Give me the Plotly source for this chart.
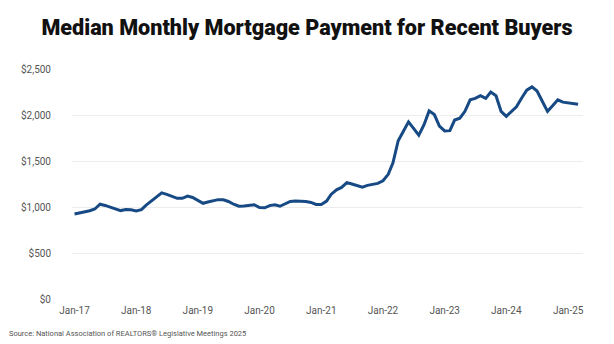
import plotly.graph_objects as go
import pandas as pd

months = pd.date_range("2017-01-01", periods=99, freq="MS")
payment = [
    923, 935, 947, 960, 978, 1030, 1017, 997, 976, 961, 973, 970,
    957, 972, 1020, 1068, 1111, 1154, 1138, 1119, 1094, 1095, 1119, 1104,
    1072, 1040, 1054, 1067, 1080, 1079, 1060, 1030, 1008, 1010, 1016, 1025,
    995, 991, 1015, 1023, 1008, 1035, 1061, 1066, 1065, 1060, 1050, 1028,
    1027, 1064, 1139, 1187, 1213, 1265, 1250, 1230, 1216, 1235, 1250, 1257,
    1285, 1355, 1480, 1720, 1820, 1925, 1855, 1780, 1895, 2045, 2005, 1880,
    1827, 1830, 1945, 1965, 2040, 2165, 2180, 2210, 2180, 2250, 2210, 2040,
    1985, 2035, 2090, 2185, 2270, 2305, 2260, 2150, 2040, 2100, 2165, 2140,
    2133, 2125, 2117,
]
y_ticks = [0, 500, 1000, 1500, 2000, 2500]
y_labels = ["$0", "$500", "$1,000", "$1,500", "$2,000", "$2,500"]
x_ticks = pd.date_range("2017-01-01", periods=9, freq="12MS")
x_labels = ["Jan-17", "Jan-18", "Jan-19", "Jan-20", "Jan-21", "Jan-22", "Jan-23", "Jan-24", "Jan-25"]

fig = go.Figure()
fig.add_trace(go.Scatter(
    x=months, y=payment, mode="lines",
    line=dict(color="#174A84", width=3), hoverinfo="skip",
))

fig.update_layout(
    width=614, height=344,
    margin=dict(l=72, r=31, t=69, b=45),
    paper_bgcolor="white", plot_bgcolor="white",
    showlegend=False,
    title=dict(
        text="Median Monthly Mortgage Payment for Recent Buyers",
        x=0.5, xanchor="center", y=0.92, yanchor="middle",
        font=dict(family="Roboto", size=21.6, weight=900, color="#111111"),
    ),
    font=dict(family="Roboto", color="#555555"),
)
fig.update_xaxes(
    range=[pd.Timestamp("2016-12-17"), pd.Timestamp("2025-03-30")],
    tickvals=x_ticks, ticktext=x_labels,
    showgrid=False, zeroline=False, showline=False, ticks="",
    tickfont=dict(size=10, color="#555555"), ticklabelstandoff=4,
)
fig.update_yaxes(
    range=[0, 2500],
    tickvals=y_ticks, ticktext=y_labels,
    showgrid=True, gridcolor="#ececec", gridwidth=1,
    zeroline=False, showline=False, ticks="",
    tickfont=dict(size=10, color="#555555"), ticklabelstandoff=20,
)
fig.add_annotation(
    text="Source: National Association of REALTORS® Legislative Meetings 2025",
    xref="paper", yref="paper", x=(7 - 72) / 511, y=-34 / 230,
    xanchor="left", yanchor="middle",
    showarrow=False, font=dict(family="Roboto", size=7.5, color="#555555"),
)

fig.write_html("out.html")
